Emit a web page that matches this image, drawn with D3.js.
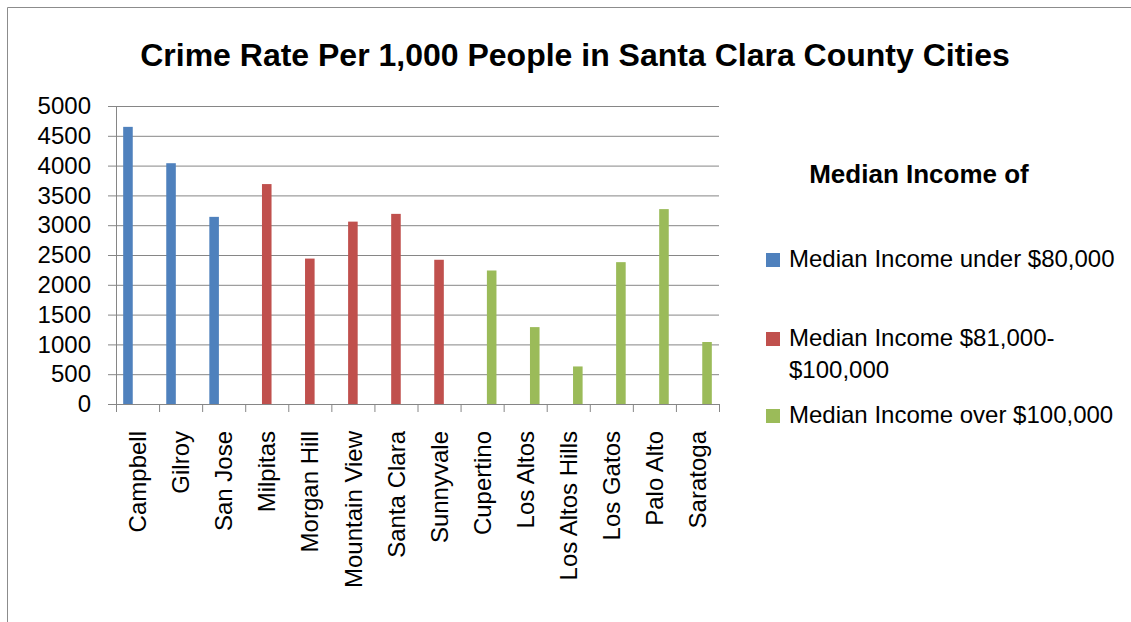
<!DOCTYPE html>
<html>
<head>
<meta charset="utf-8">
<script src="https://cdn.jsdelivr.net/npm/d3@7"></script>
<style>
  html, body { margin: 0; padding: 0; background: #fff; }
  svg { display: block; }
  text { font-family: "Liberation Sans", Arial, sans-serif; fill: #000; }
</style>
</head>
<body>
<svg id="chart" width="1131" height="622"></svg>
<script>
// Cities in chart order
const cities = [
  "Campbell", "Gilroy", "San Jose", "Milpitas", "Morgan Hill", "Mountain View",
  "Santa Clara", "Sunnyvale", "Cupertino", "Los Altos", "Los Altos Hills",
  "Los Gatos", "Palo Alto", "Saratoga"
];

// Crime rate per 1,000 people, one series per income bracket (blank where the city is not in the bracket)
const under80k = [4650, 4040, 3140, null, null, null, null, null, null, null, null, null, null, null];
const from81to100k = [null, null, null, 3690, 2440, 3060, 3190, 2420, null, null, null, null, null, null];
const over100k = [null, null, null, null, null, null, null, null, 2240, 1290, 630, 2380, 3270, 1040];

const seriesNames = [
  "Median Income under $80,000",
  "Median Income $81,000-$100,000",
  "Median Income over $100,000"
];
const seriesColors = ["#4F81BD", "#C0504D", "#9BBB59"];
const seriesValues = [under80k, from81to100k, over100k];

const yTicks = [0, 500, 1000, 1500, 2000, 2500, 3000, 3500, 4000, 4500, 5000];

const svg = d3.select("#chart");

// outer chart frame (top and left edges)
svg.append("line").attr("x1", 7.5).attr("x2", 1131).attr("y1", 7.5).attr("y2", 7.5)
  .attr("stroke", "#8c8c8c").attr("stroke-width", 1);
svg.append("line").attr("x1", 7.5).attr("x2", 7.5).attr("y1", 7.5).attr("y2", 622)
  .attr("stroke", "#8c8c8c").attr("stroke-width", 1);

// title
svg.append("text")
  .attr("x", 575).attr("y", 66)
  .attr("text-anchor", "middle")
  .style("font-size", "32px").style("font-weight", "bold")
  .text("Crime Rate Per 1,000 People in Santa Clara County Cities");

const plot = { left: 116, right: 719, top: 106, bottom: 404 };

const x0 = d3.scaleBand().domain(cities).range([plot.left, plot.right]).paddingInner(0).paddingOuter(0);
const x1 = d3.scaleBand().domain(seriesNames).range([0, x0.bandwidth()]).paddingInner(0).paddingOuter(0.75);
const y = d3.scaleLinear().domain([0, 5000]).range([plot.bottom, plot.top]);

const gridColor = "#868686";

// horizontal gridlines with value labels on the left
const yAxis = svg.append("g")
  .attr("transform", `translate(${plot.right},0)`)
  .call(d3.axisLeft(y).tickValues(yTicks).tickSize(plot.right - plot.left + 8).tickPadding(17).tickFormat(d3.format("d")));
yAxis.select(".domain").remove();
yAxis.selectAll(".tick line").attr("stroke", gridColor);
yAxis.selectAll(".tick text")
  .style("font-size", "24px")
  .style("font-family", "'Liberation Sans', Arial, sans-serif")
  .attr("fill", "#000");

// vertical value axis line
svg.append("line")
  .attr("x1", plot.left + 0.5).attr("x2", plot.left + 0.5)
  .attr("y1", y(5000)).attr("y2", y(0) + 0.5)
  .attr("stroke", gridColor);

// bars
const bars = svg.append("g");
seriesValues.forEach((vals, si) => {
  bars.selectAll(null)
    .data(cities.map((c, i) => ({ city: c, value: vals[i] })).filter(d => d.value != null))
    .join("rect")
    .attr("x", d => x0(d.city) + x1(seriesNames[si]))
    .attr("width", x1.bandwidth())
    .attr("y", d => y(d.value))
    .attr("height", d => y(0) - y(d.value))
    .attr("fill", seriesColors[si]);
});

// category axis: tick marks at category boundaries
const edge = d3.scaleLinear().domain([0, cities.length]).range([plot.left, plot.right]);
const xTicks = svg.append("g")
  .attr("transform", `translate(0,${plot.bottom})`)
  .call(d3.axisBottom(edge).tickValues(d3.range(cities.length + 1)).tickSize(8).tickFormat(""));
xTicks.select(".domain").attr("stroke", gridColor).attr("d", `M${plot.left + 0.5},0.5H${plot.right + 0.5}`);
xTicks.selectAll(".tick line").attr("stroke", gridColor);

// category labels, rotated
const xLabels = svg.append("g")
  .attr("transform", `translate(0,${plot.bottom})`)
  .call(d3.axisBottom(x0).tickSize(0).tickPadding(0));
xLabels.select(".domain").remove();
xLabels.selectAll(".tick text")
  .attr("transform", "rotate(-90)")
  .attr("text-anchor", "end")
  .attr("x", -27)
  .attr("y", 0)
  .attr("dy", "0.36em")
  .style("font-size", "24px")
  .style("font-family", "'Liberation Sans', Arial, sans-serif")
  .attr("fill", "#000");

// legend
svg.append("text")
  .attr("x", 919).attr("y", 183)
  .attr("text-anchor", "middle")
  .style("font-size", "26px").style("font-weight", "bold")
  .text("Median Income of");

const legendItems = [
  { lines: ["Median Income under $80,000"], y: 267 },
  { lines: ["Median Income $81,000-", "$100,000"], y: 346 },
  { lines: ["Median Income over $100,000"], y: 423 }
];
const legend = svg.append("g");
legendItems.forEach((item, i) => {
  legend.append("rect")
    .attr("x", 766).attr("y", item.y - 14)
    .attr("width", 14).attr("height", 14)
    .attr("fill", seriesColors[i]);
  const t = legend.append("text")
    .attr("x", 789).attr("y", item.y)
    .style("font-size", "24px");
  item.lines.forEach((ln, j) => {
    t.append("tspan").attr("x", 789).attr("dy", j === 0 ? 0 : 32).text(ln);
  });
});
</script>
</body>
</html>
